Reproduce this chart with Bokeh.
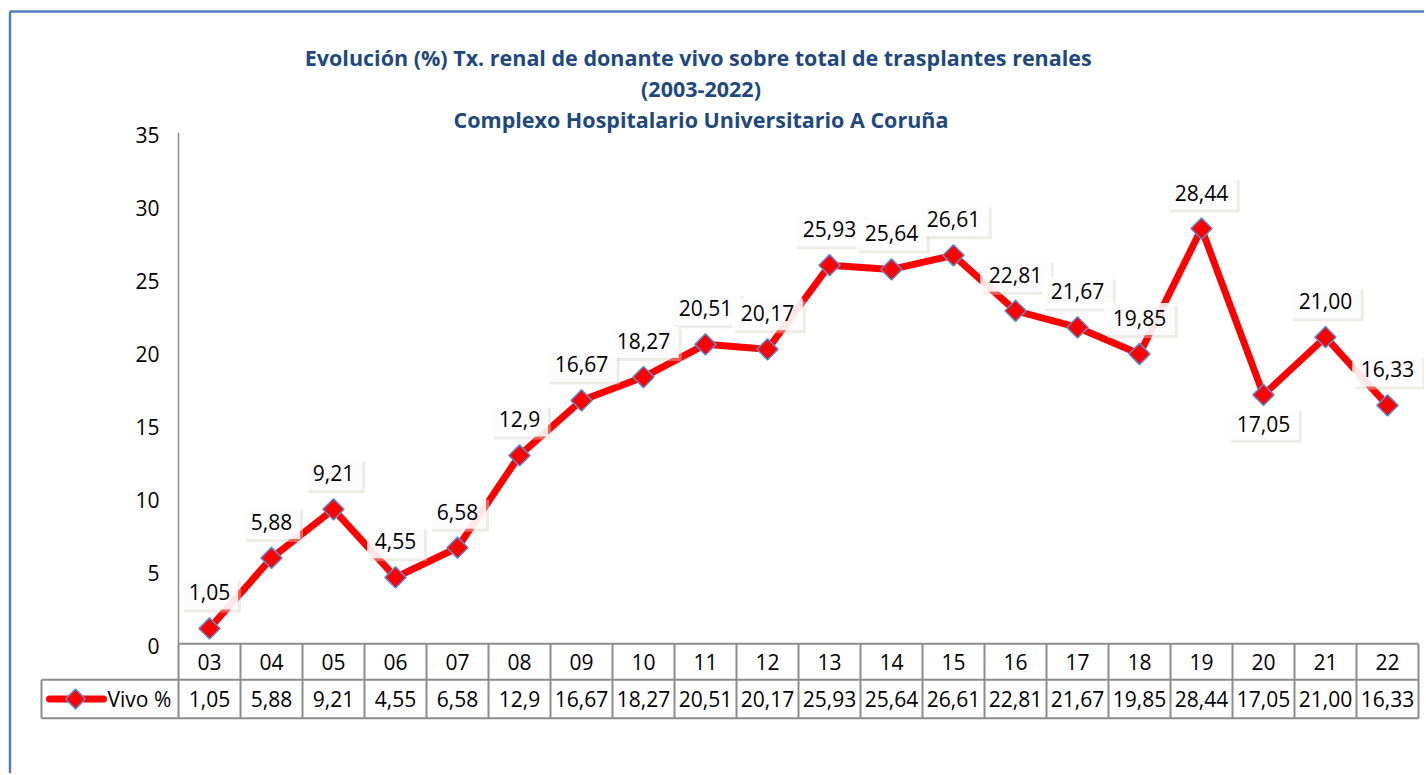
from bokeh.plotting import figure
from bokeh.models import Range1d, ColumnDataSource
from bokeh.core.properties import value
from bokeh.embed import file_html
from bokeh.resources import INLINE

# ---------------- data ----------------
categories = ["03", "04", "05", "06", "07", "08", "09", "10", "11", "12",
              "13", "14", "15", "16", "17", "18", "19", "20", "21", "22"]
vivo_values = [1.05, 5.88, 9.21, 4.55, 6.58, 12.9, 16.67, 18.27, 20.51, 20.17,
               25.93, 25.64, 26.61, 22.81, 21.67, 19.85, 28.44, 17.05, 21.00, 16.33]
vivo_labels = ["1,05", "5,88", "9,21", "4,55", "6,58", "12,9", "16,67", "18,27", "20,51", "20,17",
               "25,93", "25,64", "26,61", "22,81", "21,67", "19,85", "28,44", "17,05", "21,00", "16,33"]
label_below = ["17,05"]
series_name = "Vivo %"
y_ticks = [0, 5, 10, 15, 20, 25, 30, 35]
y_max = 35
title_lines = [
    "Evolución (%) Tx. renal de donante vivo sobre total  de trasplantes renales",
    "(2003-2022)",
    "Complexo Hospitalario Universitario A Coruña",
]

# ---------------- layout (pixels) ----------------
W, H = 1424, 773
PXC = 62.0          # pixels per category column
PXV = 14.6          # pixels per value unit
OX, OY = 178.0, 643.3   # plot origin inside figure (from left / from top)

def dx(px):
    return px / PXC

def dy(px):
    return px / PXV

FONT = value("Open Sans")
FS = "21px"
GRID = "#8c8c8c"
RED = "#ff0000"
BLUE_EDGE = "#5b8bd0"
TITLE_COL = "#1f497d"

p = figure(width=W, height=H, output_backend="svg", toolbar_location=None,
           x_range=Range1d(-OX / PXC, (W - OX) / PXC),
           y_range=Range1d(-(H - OY) / PXV, OY / PXV),
           min_border=0, x_axis_type=None, y_axis_type=None)
p.grid.visible = False
p.outline_line_color = None
p.background_fill_color = "white"
p.border_fill_color = "white"

n = len(categories)
xc = [i + 0.5 for i in range(n)]

# chart border (left and top, the rest lies outside the window)
bx = -OX / PXC + dx(9.5)
by = OY / PXV - dy(11)
p.segment(x0=[bx, bx], y0=[by, by], x1=[bx, (W - OX) / PXC + 1], y1=[-(H - OY) / PXV - 1, by],
          line_color="#4f81bd", line_width=2.5)

# title
title_y = [dy(OY - 57), dy(OY - 88), dy(OY - 119)]
p.text(x=[dx(700.5 - OX)] * 3, y=title_y, text=title_lines, text_font=value("Open Sans"),
       text_font_style="bold", text_font_size="21.5px", text_color=TITLE_COL,
       text_align="center", text_baseline="middle")

# value axis line and tick labels
p.segment(x0=[0], y0=[0], x1=[0], y1=[y_max], line_color=GRID, line_width=1.5)
p.text(x=[0] * len(y_ticks), y=y_ticks, text=[str(t) for t in y_ticks], x_offset=-19, y_offset=2,
       text_font=FONT, text_font_size=FS, text_color="black",
       text_align="right", text_baseline="middle")

# data table
r1 = -dy(36.0)
r2 = -dy(74.4)
leg_left = -dx(137)
p.segment(x0=[0, leg_left, leg_left], y0=[0, r1, r2], x1=[n, n, n], y1=[0, r1, r2],
          line_color=GRID, line_width=2)
p.segment(x0=list(range(n + 1)) + [leg_left], y0=[0] * (n + 1) + [r1],
          x1=list(range(n + 1)) + [leg_left], y1=[r2] * (n + 2),
          line_color=GRID, line_width=2)
p.text(x=xc, y=[r1 / 2] * n, text=categories, text_font=FONT, text_font_size=FS,
       text_align="center", text_baseline="middle", text_color="black")
p.text(x=xc, y=[(r1 + r2) / 2] * n, text=vivo_labels, text_font=FONT, text_font_size=FS,
       text_align="center", text_baseline="middle", text_color="black")
# legend key in table
ly = (r1 + r2) / 2
p.line(x=[-dx(129), -dx(75)], y=[ly, ly], line_color=RED, line_width=7, line_cap="round")
p.scatter(x=[-dx(103)], y=[ly], marker="square", angle=0.785398, size=14,
          fill_color=RED, line_color=BLUE_EDGE, line_width=1.5)
p.text(x=[-dx(71)], y=[ly], text=[series_name], text_font=FONT, text_font_size=FS,
       text_align="left", text_baseline="middle", text_color="black")

# series line
p.line(x=xc, y=vivo_values, line_color=RED, line_width=7, line_join="round")

# data labels with boxes
box_y, txt_off, box_w = [], [], []
for v, lab in zip(vivo_values, vivo_labels):
    if lab in label_below:
        box_y.append(v - dy(29))
        txt_off.append(29)
    else:
        box_y.append(v + dy(35))
        txt_off.append(-36)
    box_w.append(13.5 * len(lab) + 3)
src = ColumnDataSource(dict(x=xc, v=vivo_values, by=box_y, bw=box_w, lab=vivo_labels, off=txt_off))
shadow = ColumnDataSource(dict(x=[x + dx(3) for x in xc], by=[b - dy(3) for b in box_y], bw=box_w))
p.rect(x="x", y="by", width="bw", height=32, width_units="screen", height_units="screen",
       source=shadow, fill_color="#d8d4c8", fill_alpha=0.45, line_color=None)
p.rect(x="x", y="by", width="bw", height=32, width_units="screen", height_units="screen",
       source=src, fill_color="white", fill_alpha=0.85, line_color=None)
p.scatter(x="x", y="v", source=src, marker="square", angle=0.785398, size=15,
          fill_color=RED, line_color=BLUE_EDGE, line_width=1.5)
p.text(x="x", y="v", text="lab", y_offset="off", source=src, text_font=FONT, text_font_size=FS,
       text_align="center", text_baseline="middle", text_color="black")

open("out.html", "w").write(file_html(p, INLINE))
